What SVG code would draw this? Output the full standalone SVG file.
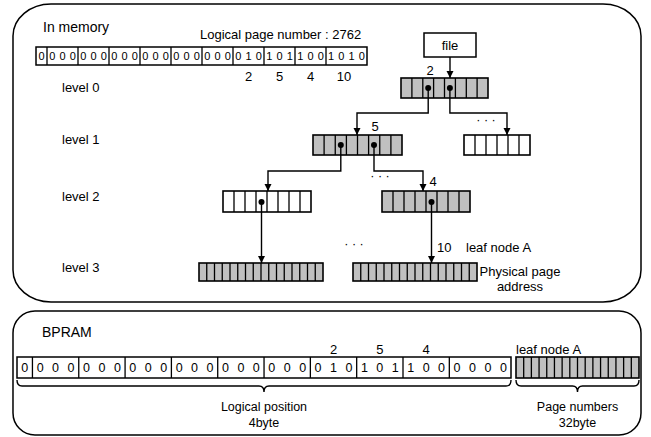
<svg xmlns="http://www.w3.org/2000/svg" width="651" height="437" viewBox="0 0 651 437">
<defs>
<style>
text{font-family:"Liberation Sans",Arial,sans-serif;fill:#000}
.t14{font-size:14px}
.t13{font-size:13px}
.t12{font-size:12.5px}
.bits{font-size:11px}
.bbits{font-size:12.5px}
.box{fill:#fff;stroke:#000;stroke-width:1.5}
.gray{fill:#c0c0c0;stroke:#000;stroke-width:1.6}
.white{fill:#fff;stroke:#000;stroke-width:1.6}
.cells{fill:none;stroke:#000;stroke-width:1.3}
.cont{fill:none;stroke:#000;stroke-width:1.5}
.conn{fill:none;stroke:#000;stroke-width:1.4}
.dot{fill:#000}
.mid{text-anchor:middle}
</style>
<marker id="arr" markerWidth="8" markerHeight="8" refX="7" refY="3.5" orient="auto" markerUnits="userSpaceOnUse">
<path d="M0,0 L7,3.5 L0,7 z" fill="#000"/>
</marker>
</defs>
<rect width="651" height="437" fill="#fff"/>

<g id="in-memory">
<rect class="cont" x="13" y="4" width="628" height="298" rx="38" ry="32"/>
<text class="t14" x="43" y="32">In memory</text>
<text class="t13" x="200" y="39">Logical page number : 2762</text>
<text class="t13" x="62" y="92">level 0</text>
<text class="t13" x="62" y="144">level 1</text>
<text class="t13" x="62" y="201">level 2</text>
<text class="t13" x="62" y="272">level 3</text>
</g>

<g id="logical-page-bits">
<rect class="box" x="36" y="47" width="331" height="18"/>
<path class="cells" d="M47,47v18M78,47v18M109,47v18M140,47v18M171,47v18M202,47v18M233,47v18M264,47v18M295,47v18M326,47v18"/>
<text class="bits mid" y="60" x="41.5 52.2 62.5 72.8 83.2 93.5 103.8 114.2 124.5 134.8 145.2 155.5 165.8 176.2 186.5 196.8 207.2 217.5 227.8 238.2 248.5 258.8 269.2 279.5 289.8 300.2 310.5 320.8 331.1 341.4 351.6 361.9">00000000000000000000101011001010</text>
<text class="t13 mid" x="248.5" y="81">2</text>
<text class="t13 mid" x="279.5" y="81">5</text>
<text class="t13 mid" x="310.5" y="81">4</text>
<text class="t13 mid" x="344" y="81">10</text>
</g>

<g id="file">
<rect class="box" x="424" y="33" width="52" height="24"/>
<text class="t13 mid" x="450" y="50">file</text>
</g>

<g id="node-l0">
<rect class="gray" x="401" y="78" width="87" height="20"/>
<path class="cells" d="M411.9,78v20M422.8,78v20M433.6,78v20M444.5,78v20M455.4,78v20M466.3,78v20M477.1,78v20"/>
<text class="t13 mid" x="430" y="75">2</text>
</g>

<g id="node-l1-left">
<rect class="gray" x="313" y="135" width="89" height="20"/>
<path class="cells" d="M324.1,135v20M335.25,135v20M346.4,135v20M357.5,135v20M368.6,135v20M379.75,135v20M390.9,135v20"/>
<text class="t13 mid" x="375" y="131">5</text>
</g>

<g id="node-l1-right">
<rect class="white" x="464" y="135" width="66" height="20"/>
<path class="cells" d="M475,135v20M486,135v20M497,135v20M508,135v20M519,135v20"/>
</g>

<g id="node-l2-left">
<rect class="white" x="223" y="191" width="88" height="21"/>
<path class="cells" d="M234,191v21M245,191v21M256,191v21M267,191v21M278,191v21M289,191v21M300,191v21"/>
</g>

<g id="node-l2-right">
<rect class="gray" x="382" y="191" width="88" height="21"/>
<path class="cells" d="M393,191v21M404,191v21M415,191v21M426,191v21M437,191v21M448,191v21M459,191v21"/>
<text class="t13 mid" x="433" y="186">4</text>
</g>

<g id="node-l3-left">
<rect class="gray" x="199" y="263" width="124" height="18"/>
<path class="cells" d="M206.75,263v18M214.5,263v18M222.25,263v18M230,263v18M237.75,263v18M245.5,263v18M253.25,263v18M261,263v18M268.75,263v18M276.5,263v18M284.25,263v18M292,263v18M299.75,263v18M307.5,263v18M315.25,263v18"/>
</g>

<g id="node-l3-leafA">
<rect class="gray" x="353" y="263" width="124" height="18"/>
<path class="cells" d="M360.75,263v18M368.5,263v18M376.25,263v18M384,263v18M391.75,263v18M399.5,263v18M407.25,263v18M415,263v18M422.75,263v18M430.5,263v18M438.25,263v18M446,263v18M453.75,263v18M461.5,263v18M469.25,263v18"/>
<text class="t13" x="437" y="252">10</text>
<text class="t13" x="466" y="252">leaf node A</text>
<text class="t13 mid" x="520" y="276">Physical page</text>
<text class="t13 mid" x="520" y="291">address</text>
</g>

<g id="ellipses">
<text class="t12 mid" x="486" y="124">· · ·</text>
<text class="t12 mid" x="380" y="180">· · ·</text>
<text class="t12 mid" x="354" y="248">· · ·</text>
</g>

<g id="connectors">
<path class="conn" d="M450,57V78" marker-end="url(#arr)"/>
<path class="conn" d="M428.2,88V113H357V135" marker-end="url(#arr)"/>
<path class="conn" d="M449.9,88V113H507V135" marker-end="url(#arr)"/>
<path class="conn" d="M340.8,145V171H268V191" marker-end="url(#arr)"/>
<path class="conn" d="M374,145V171H423V191" marker-end="url(#arr)"/>
<path class="conn" d="M261.5,202V263" marker-end="url(#arr)"/>
<path class="conn" d="M431.5,202V263" marker-end="url(#arr)"/>
<circle class="dot" cx="428.2" cy="88" r="3"/>
<circle class="dot" cx="449.9" cy="88" r="3"/>
<circle class="dot" cx="340.8" cy="145" r="3"/>
<circle class="dot" cx="374" cy="145" r="3"/>
<circle class="dot" cx="261.5" cy="202" r="3"/>
<circle class="dot" cx="431.5" cy="202" r="3"/>
</g>

<g id="bpram">
<rect class="cont" x="13" y="311" width="628" height="124" rx="22" ry="22"/>
<text class="t14" x="42" y="337">BPRAM</text>
</g>

<g id="logical-position-bits">
<rect class="box" x="17" y="357" width="494" height="21"/>
<path class="cells" d="M32.44,357v21M78.76,357v21M125.08,357v21M171.4,357v21M217.72,357v21M264.04,357v21M310.36,357v21M356.68,357v21M403,357v21M449.32,357v21"/>
<text class="bbits mid" y="372" x="24.72 40.16 55.6 71.04 86.48 101.92 117.36 132.8 148.24 163.68 179.12 194.56 210 225.44 240.88 256.32 271.76 287.2 302.64 318.08 333.52 348.96 364.4 379.84 395.28 410.72 426.16 441.6 457.04 472.48 487.92 503.36">00000000000000000000101011000000</text>
<text class="t13 mid" x="333.5" y="354">2</text>
<text class="t13 mid" x="379.8" y="354">5</text>
<text class="t13 mid" x="426.2" y="354">4</text>
<path class="conn" d="M17,380Q17,386 22,386H259Q264,386 264,392Q264,386 269,386H506Q511,386 511,380"/>
<text class="t12 mid" x="264" y="411">Logical position</text>
<text class="t12 mid" x="264" y="427">4byte</text>
</g>

<g id="bpram-leafA">
<text class="t13" x="516" y="354">leaf node A</text>
<rect class="gray" x="516" y="357" width="123" height="21"/>
<path class="cells" d="M523.69,357v21M531.38,357v21M539.06,357v21M546.75,357v21M554.44,357v21M562.13,357v21M569.81,357v21M577.5,357v21M585.19,357v21M592.88,357v21M600.56,357v21M608.25,357v21M615.94,357v21M623.63,357v21M631.31,357v21"/>
<path class="conn" d="M516,380Q516,386 521,386H572.5Q577.5,386 577.5,392Q577.5,386 582.5,386H634Q639,386 639,380"/>
<text class="t12 mid" x="577.5" y="411">Page numbers</text>
<text class="t12 mid" x="577.5" y="427">32byte</text>
</g>
</svg>
